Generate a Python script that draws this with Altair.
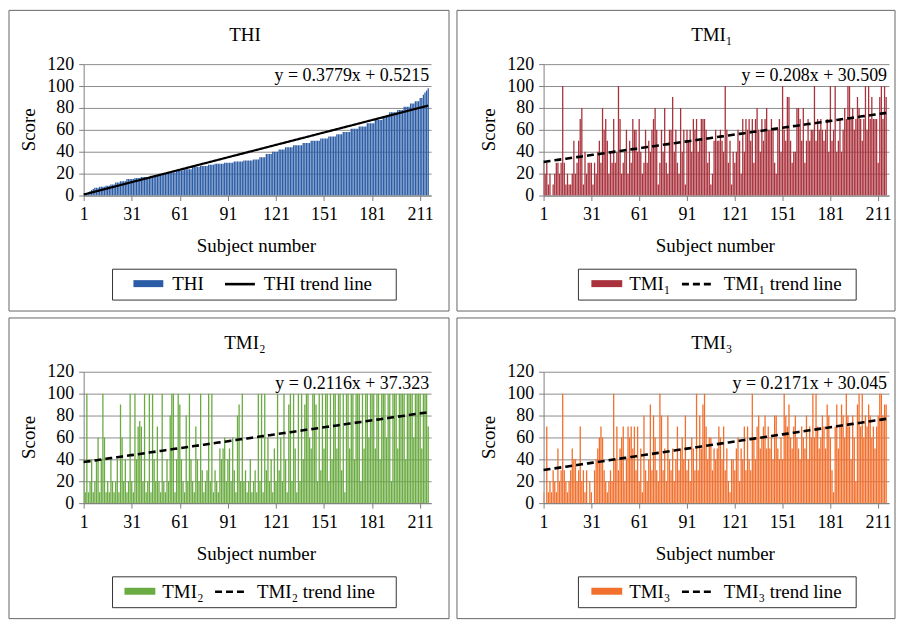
import altair as alt
import pandas as pd

subjects = list(range(1, 217))

thi = [0, 1, 2, 3, 4, 5, 6, 7, 7, 7,
       8, 8, 8, 8, 9, 9, 9, 10, 10, 10,
       12, 12, 12, 13, 13, 13, 13, 15, 15, 15,
       15, 15, 16, 16, 16, 16, 17, 17, 17, 17,
       17, 17, 18, 18, 18, 18, 18, 20, 20, 20,
       20, 20, 21, 21, 21, 21, 21, 21, 23, 23,
       23, 23, 23, 24, 24, 24, 24, 24, 26, 26,
       26, 26, 26, 27, 27, 27, 27, 27, 28, 28,
       28, 28, 29, 29, 29, 29, 29, 29, 30, 30,
       30, 30, 30, 30, 31, 31, 31, 31, 31, 31,
       32, 32, 32, 32, 32, 32, 33, 33, 33, 33,
       35, 35, 35, 35, 38, 38, 38, 38, 40, 40,
       40, 40, 42, 42, 42, 42, 44, 44, 44, 44,
       44, 46, 46, 46, 46, 46, 46, 48, 48, 48,
       48, 48, 50, 50, 50, 50, 50, 50, 52, 52,
       52, 52, 52, 54, 54, 54, 54, 54, 56, 56,
       56, 56, 58, 58, 58, 58, 58, 61, 61, 61,
       61, 61, 63, 63, 63, 63, 63, 66, 66, 66,
       66, 66, 69, 69, 69, 69, 69, 72, 72, 72,
       72, 76, 76, 76, 76, 76, 78, 78, 78, 78,
       81, 81, 81, 81, 84, 84, 84, 86, 86, 86,
       89, 89, 92, 94, 96, 98]

tmi1 = [30, 20, 30, 10, 20, 0, 10, 20, 30, 30,
        20, 30, 100, 30, 10, 20, 10, 10, 20, 50,
        20, 30, 50, 70, 80, 10, 40, 20, 30, 30,
        30, 10, 30, 20, 40, 50, 30, 80, 60, 70,
        50, 20, 40, 30, 70, 30, 40, 100, 70, 20,
        30, 40, 60, 20, 50, 30, 70, 60, 60, 40,
        70, 40, 20, 30, 60, 30, 50, 40, 60, 70,
        80, 60, 10, 30, 60, 40, 80, 30, 20, 60,
        60, 90, 40, 60, 30, 20, 80, 40, 60, 10,
        60, 50, 60, 40, 70, 60, 70, 40, 50, 70,
        70, 70, 60, 30, 40, 10, 20, 50, 60, 50,
        50, 60, 50, 40, 100, 60, 30, 50, 10, 40,
        30, 40, 60, 50, 20, 70, 40, 70, 60, 70,
        50, 70, 30, 70, 80, 60, 40, 70, 50, 70,
        80, 60, 60, 70, 60, 30, 20, 60, 70, 40,
        100, 60, 50, 90, 90, 50, 30, 40, 40, 80,
        80, 70, 50, 80, 30, 50, 70, 50, 60, 60,
        100, 50, 70, 60, 70, 60, 50, 60, 70, 40,
        100, 50, 60, 100, 40, 50, 70, 40, 60, 80,
        70, 100, 100, 70, 80, 60, 70, 90, 80, 70,
        50, 70, 100, 60, 100, 70, 90, 70, 70, 70,
        30, 90, 100, 70, 100, 90]

tmi2 = [40, 10, 100, 10, 20, 40, 10, 20, 40, 60,
        10, 40, 100, 60, 10, 20, 10, 40, 20, 10,
        20, 40, 10, 90, 60, 20, 40, 10, 20, 100,
        20, 10, 100, 40, 70, 75, 70, 20, 100, 10,
        20, 100, 10, 100, 40, 20, 70, 20, 10, 100,
        20, 10, 40, 20, 80, 100, 100, 10, 40, 100,
        90, 40, 20, 10, 80, 20, 100, 40, 20, 10,
        70, 40, 20, 100, 30, 10, 20, 30, 100, 20,
        100, 10, 30, 20, 10, 50, 40, 50, 60, 20,
        40, 50, 20, 60, 30, 10, 80, 90, 20, 100,
        20, 30, 10, 20, 40, 10, 20, 30, 10, 100,
        20, 100, 10, 100, 30, 60, 20, 40, 10, 50,
        20, 100, 30, 60, 20, 100, 40, 10, 90, 100,
        20, 100, 50, 10, 100, 20, 100, 40, 90, 100,
        100, 60, 50, 100, 100, 90, 20, 100, 30, 100,
        50, 100, 100, 20, 100, 40, 100, 100, 50, 100,
        100, 30, 100, 10, 100, 100, 50, 100, 100, 40,
        100, 100, 100, 20, 100, 50, 100, 100, 60, 100,
        100, 100, 50, 100, 100, 40, 100, 100, 100, 60,
        100, 100, 20, 100, 100, 100, 50, 100, 100, 100,
        100, 40, 100, 100, 100, 100, 60, 100, 100, 100,
        100, 50, 100, 100, 100, 70]

tmi3 = [10, 0, 70, 10, 20, 10, 30, 20, 10, 50,
        20, 30, 100, 30, 20, 10, 20, 30, 50, 40,
        40, 20, 30, 70, 20, 30, 10, 30, 0, 20,
        10, 0, 30, 40, 50, 60, 70, 60, 30, 20,
        10, 20, 30, 20, 100, 40, 70, 30, 50, 60,
        70, 20, 40, 70, 60, 70, 50, 70, 30, 70,
        20, 50, 10, 80, 30, 20, 40, 90, 30, 80,
        60, 30, 20, 100, 80, 30, 50, 20, 80, 40,
        30, 50, 20, 40, 70, 30, 50, 60, 40, 80,
        30, 40, 20, 60, 50, 30, 100, 30, 80, 50,
        90, 100, 70, 40, 60, 60, 30, 50, 40, 50,
        70, 60, 40, 70, 30, 50, 20, 10, 40, 40,
        30, 50, 60, 20, 50, 40, 70, 30, 70, 40,
        30, 100, 60, 40, 70, 80, 50, 60, 70, 80,
        50, 70, 50, 60, 40, 80, 80, 50, 40, 60,
        40, 100, 80, 70, 90, 60, 50, 70, 80, 60,
        50, 40, 70, 60, 50, 80, 40, 70, 60, 100,
        60, 100, 70, 50, 60, 80, 70, 50, 90, 80,
        60, 30, 10, 70, 90, 50, 70, 90, 80, 60,
        100, 80, 70, 40, 80, 60, 20, 90, 100, 70,
        100, 60, 80, 70, 90, 80, 60, 70, 50, 70,
        80, 100, 100, 80, 90, 90]

x_tick_values = [1, 31, 61, 91, 121, 151, 181, 211]
y_tick_values = [0, 20, 40, 60, 80, 100, 120]

panel_titles = ["THI", "TMI\u2081", "TMI\u2082", "TMI\u2083"]
series_labels = ["THI", "TMI\u2081", "TMI\u2082", "TMI\u2083"]
trend_labels = ["THI trend line", "TMI\u2081 trend line", "TMI\u2082 trend line", "TMI\u2083 trend line"]
trend_slopes = [0.3779, 0.208, 0.2116, 0.2171]
trend_intercepts = [0.5215, 30.509, 37.323, 30.045]
equations = ["y = 0.3779x + 0.5215", "y = 0.208x + 30.509",
             "y = 0.2116x + 37.323", "y = 0.2171x + 30.045"]
bar_colors = ["#2b5ca6", "#a9323c", "#6aab42", "#f2702d"]

FONT = "Liberation Serif"
H = 132
one = pd.DataFrame({"k": [0]})


def txt(s, x, y, size=19, align="left", baseline="alphabetic", angle=0):
    kw = dict(text=s, font=FONT, fontSize=size, align=align,
              baseline=baseline, color="black")
    if angle:
        kw["angle"] = angle
    return alt.Chart(one).mark_text(**kw).encode(x=alt.value(x), y=alt.value(y))


def rect(x0, x1, y0, y1, **kw):
    return alt.Chart(one).mark_rect(**kw).encode(
        x=alt.value(x0), x2=alt.value(x1), y=alt.value(y0), y2=alt.value(y1))


xscale = alt.Scale(domain=[1, 217.8], nice=False, zero=False, padding=0)
yscale = alt.Scale(domain=[0, 120], nice=False, padding=0)
x_axis = alt.Axis(values=x_tick_values, grid=False, labelFont=FONT,
                  labelFontSize=18, labelColor="black", tickSize=5,
                  labelPadding=5, labelFlush=False, labelOverlap=False,
                  domainColor="#7f7f7f", tickColor="#7f7f7f")
y_axis = alt.Axis(values=y_tick_values, grid=True, gridColor="#8c8c8c",
                  gridWidth=1, labelFont=FONT, labelFontSize=18,
                  labelColor="black", tickSize=5, labelPadding=5,
                  domainColor="#7f7f7f", tickColor="#7f7f7f")


def panel(i, values, W, frame, leg, title_x):
    df = pd.DataFrame({"subject": subjects, "score": values})
    fl, fr, ft, fb = frame
    frame_mark = rect(fl, fr, ft, fb, fillOpacity=0, stroke="#666666", strokeWidth=1)
    bars = alt.Chart(df).mark_bar(size=1.3, color=bar_colors[i], clip=True).encode(
        x=alt.X("subject:Q", scale=xscale, axis=x_axis, title=None),
        y=alt.Y("score:Q", scale=yscale, axis=y_axis, title=None))
    line_kw = dict(color="black", strokeWidth=2.2 if i == 0 else 2.6)
    if i > 0:
        line_kw["strokeDash"] = [7, 4]
    trend = alt.Chart(df).transform_calculate(
        trend=f"{trend_slopes[i]} * datum.subject + {trend_intercepts[i]}"
    ).mark_line(**line_kw).encode(
        x=alt.X("subject:Q", scale=xscale, axis=x_axis, title=None),
        y=alt.Y("trend:Q", scale=yscale, axis=y_axis, title=None))
    title = txt(panel_titles[i], title_x, -23, size=19, align="center")
    eq = txt(equations[i], W - 2, 17, size=18, align="right")
    score = txt("Score", -55, H / 2, size=19, align="center", baseline="middle", angle=270)
    subj = txt("Subject number", W / 2 - 1, 183, size=19, align="center", baseline="middle")
    bx0, bx1, sw0, sw1, l1, ln0, ln1, l2 = leg
    box = rect(bx0, bx1, 206, 237, fill="white", stroke="#333333", strokeWidth=1)
    swatch = rect(sw0, sw1, 217, 224, color=bar_colors[i])
    rule_kw = dict(color="black", strokeWidth=2.6)
    if i > 0:
        rule_kw["strokeDash"] = [7, 4]
    lswatch = alt.Chart(one).mark_rule(**rule_kw).encode(
        x=alt.value(ln0), x2=alt.value(ln1), y=alt.value(221))
    lab1 = txt(series_labels[i], l1, 221, size=19, baseline="middle")
    lab2 = txt(trend_labels[i], l2, 221, size=19, baseline="middle")
    return alt.layer(frame_mark, bars, trend, title, eq, score, subj,
                     box, swatch, lswatch, lab1, lab2).properties(width=W, height=H)


p1 = panel(0, thi, 349, (-75, 367, -54, 248),
           (29, 314, 50, 80, 89, 142, 172, 181), 162)
p2 = panel(1, tmi1, 347, (-87, 353, -54, 248),
           (35, 314, 48, 79, 86, 139, 169, 181), 169)
p3 = panel(2, tmi2, 349, (-75, 367, -54, 248),
           (29, 314, 41, 72, 79, 132, 162, 174), 162)
p4 = panel(3, tmi3, 347, (-87, 353, -54, 248),
           (35, 314, 48, 79, 86, 139, 169, 181), 169)

row1 = alt.hconcat(p1, p2, spacing=6)
row2 = alt.hconcat(p3, p4, spacing=6)
chart = alt.vconcat(row1, row2, spacing=5).properties(padding=0).configure_view(strokeWidth=0)

chart.save("out.html", embed_options={"renderer": "svg", "actions": False})
